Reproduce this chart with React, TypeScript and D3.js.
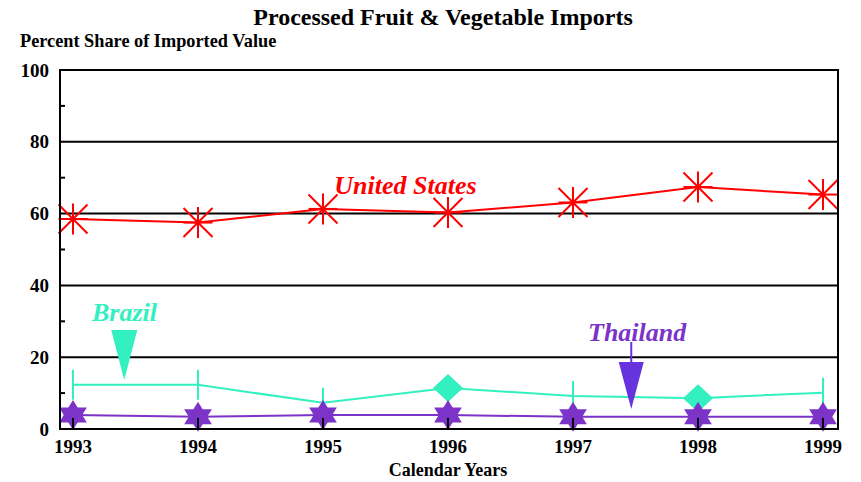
import React from "react";
import * as d3 from "d3";

const years = [1993, 1994, 1995, 1996, 1997, 1998, 1999];
const unitedStates = [58.5, 57.5, 61.3, 60.3, 63.1, 67.4, 65.3];
const brazil = [12.3, 12.3, 7.3, 11.4, 9.2, 8.6, 10.1];
const brazilMarkers = ["bar", "bar", "bar", "diamond", "bar", "diamond", "bar"];
const thailand = [3.9, 3.4, 3.9, 3.9, 3.4, 3.4, 3.4];
const yTicks = [0, 20, 40, 60, 80, 100];
const yMinorTicks = [10, 30, 50, 70, 90];

const W = 861;
const H = 482;
const RED = "#FF0000";
const TEAL = "#33F0C0";
const PURPLE = "#7B33C8";
const ARROW_PURPLE = "#6633DD";
const FONT = "'Liberation Serif', 'Times New Roman', serif";

export default function App() {
  const x = d3.scaleLinear().domain([1992.896, 1999.12]).range([60, 838]);
  const y = d3.scaleLinear().domain([0, 100]).range([429, 70]);

  const line = (vals: number[]) =>
    d3
      .line<number>()
      .x((_, i) => x(years[i]))
      .y((v) => y(v))(vals) as string;

  const asterisk = (cx: number, cy: number, k: number) => {
    const r = 14.5;
    const segs = [
      [-r, 0, r, 0],
      [0, -r - 1, 0, r + 1],
      [-r, -r, r, r],
      [-r, r, r, -r],
    ];
    return (
      <g key={k}>
        {segs.map((s, j) => (
          <line key={j} x1={cx + s[0]} y1={cy + s[1]} x2={cx + s[2]} y2={cy + s[3]} stroke={RED} strokeWidth={2} />
        ))}
      </g>
    );
  };

  const hexagram = (cx: number, cy: number, k: number) => {
    const ry = 15;
    const rx = 16;
    const up = d3.range(3).map((i) => {
      const a = -Math.PI / 2 + (i * 2 * Math.PI) / 3;
      return [cx + rx * Math.cos(a), cy + ry * Math.sin(a)];
    });
    const down = d3.range(3).map((i) => {
      const a = Math.PI / 2 + (i * 2 * Math.PI) / 3;
      return [cx + rx * Math.cos(a), cy + ry * Math.sin(a)];
    });
    return (
      <g key={k}>
        <polygon points={up.map((p) => p.join(",")).join(" ")} fill={PURPLE} />
        <polygon points={down.map((p) => p.join(",")).join(" ")} fill={PURPLE} />
      </g>
    );
  };

  const brazilArrowX = x(1993.41);
  const thaiArrowX = x(1997.466);

  return (
    <svg width={W} height={H} style={{ position: "absolute", left: 0, top: 0 }} fontFamily={FONT}>
      <rect width={W} height={H} fill="#fff" />
      <text x={443} y={25} textAnchor="middle" fontSize={24} fontWeight="bold">
        Processed Fruit &amp; Vegetable Imports
      </text>
      <text x={20} y={47} fontSize={18.3} fontWeight="bold">
        Percent Share of Imported Value
      </text>

      {/* gridlines */}
      {yTicks.slice(1, -1).map((t) => (
        <line key={t} x1={60} x2={838} y1={y(t)} y2={y(t)} stroke="#000" strokeWidth={2} />
      ))}
      {yMinorTicks.map((t) => (
        <line key={t} x1={60} x2={65} y1={y(t)} y2={y(t)} stroke="#000" strokeWidth={2} />
      ))}
      {yTicks.map((t) => (
        <text key={t} x={49} y={y(t)} dy="0.35em" textAnchor="end" fontSize={19} fontWeight="bold">
          {t}
        </text>
      ))}

      {/* Brazil */}
      <path d={line(brazil)} fill="none" stroke={TEAL} strokeWidth={2} />
      {brazil.map((v, i) =>
        brazilMarkers[i] === "diamond" ? (
          <polygon
            key={i}
            points={`${x(years[i])},${y(v) - 14} ${x(years[i]) + 15},${y(v)} ${x(years[i])},${y(v) + 14} ${x(years[i]) - 15},${y(v)}`}
            fill={TEAL}
          />
        ) : (
          <line key={i} x1={x(years[i])} x2={x(years[i])} y1={y(v) - 15} y2={y(v) + 15} stroke={TEAL} strokeWidth={2} />
        )
      )}

      {/* Thailand */}
      <path d={line(thailand)} fill="none" stroke={PURPLE} strokeWidth={2} />
      {thailand.map((v, i) => hexagram(x(years[i]), y(v), i))}

      {/* United States */}
      <path d={line(unitedStates)} fill="none" stroke={RED} strokeWidth={2} />
      {unitedStates.map((v, i) => asterisk(x(years[i]), y(v), i))}

      {/* frame */}
      <rect x={60} y={70} width={778} height={359} fill="none" stroke="#000" strokeWidth={2} />

      {/* x ticks */}
      {years.map((yr) => (
        <g key={yr}>
          <line x1={x(yr)} x2={x(yr)} y1={429} y2={418} stroke="#000" strokeWidth={2} />
          <text x={x(yr)} y={453} textAnchor="middle" fontSize={19} fontWeight="bold">
            {yr}
          </text>
        </g>
      ))}
      <text x={448} y={476} textAnchor="middle" fontSize={18} fontWeight="bold">
        Calendar Years
      </text>

      {/* annotations */}
      <text x={x(1995.09)} y={y(65.4)} fontSize={26} fontWeight="bold" fontStyle="italic" fill={RED}>
        United States
      </text>
      <text x={92} y={321} fontSize={26} fontWeight="bold" fontStyle="italic" fill={TEAL}>
        Brazil
      </text>
      <polygon
        points={`${brazilArrowX - 13},330 ${brazilArrowX + 13},330 ${brazilArrowX},380`}
        fill={TEAL}
      />
      <text x={588} y={341} fontSize={26} fontWeight="bold" fontStyle="italic" fill={PURPLE}>
        Thailand
      </text>
      <line x1={thaiArrowX} x2={thaiArrowX} y1={342} y2={364} stroke={ARROW_PURPLE} strokeWidth={2} />
      <polygon
        points={`${thaiArrowX - 12.5},362 ${thaiArrowX + 12.5},362 ${thaiArrowX},409`}
        fill={ARROW_PURPLE}
      />
    </svg>
  );
}
